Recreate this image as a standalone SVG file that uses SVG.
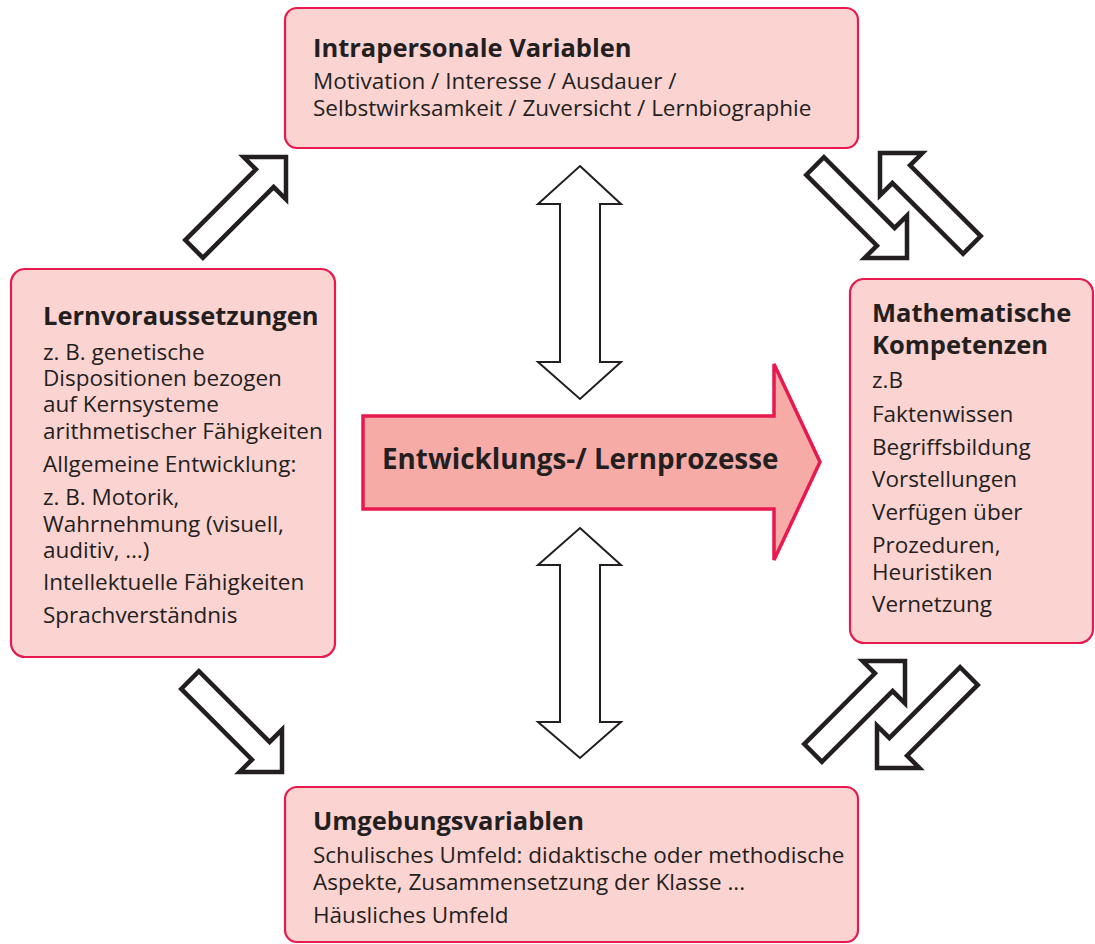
<svg xmlns="http://www.w3.org/2000/svg" width="1095" height="944" viewBox="0 0 1095 944">
<defs>
<style>
.box{fill:#fbd3d1;stroke:#e8194f;stroke-width:2.2}
.t{font-family:"Open Sans","Noto Sans",sans-serif;fill:#231f20}
.h{font-size:25.5px;font-weight:bold}
.b{font-size:22.5px}
.da{fill:#fff;stroke:#231f20;stroke-width:4.5;stroke-linejoin:miter}
.va{fill:#fff;stroke:#231f20;stroke-width:2}
</style>
<path id="diag" d="M0,0 L-30,-30 L-30,-12.5 L-130,-12.5 L-130,12.5 L-30,12.5 L-30,30 Z"/>
</defs>
<rect width="1095" height="944" fill="#fff"/>

<g id="connectors">
<use href="#diag" class="da" transform="translate(286,157) rotate(-45)"/>
<use href="#diag" class="da" transform="translate(907,258) rotate(45)"/>
<use href="#diag" class="da" transform="translate(880,153) rotate(-135)"/>
<use href="#diag" class="da" transform="translate(282,772) rotate(45)"/>
<use href="#diag" class="da" transform="translate(905,661) rotate(-45)"/>
<use href="#diag" class="da" transform="translate(877,768) rotate(135)"/>
<path class="va" d="M580,166 L621,204 L600,204 L600,362 L621,362 L580,399 L538,362 L560,362 L560,204 L538,204 Z"/>
<path class="va" d="M580,528 L621,565 L600,565 L600,722 L621,722 L580,758 L538,722 L560,722 L560,565 L538,565 Z"/>
</g>

<g id="process">
<path d="M363,416 L774,416 L774,364 L820,462 L774,560 L774,509 L363,509 Z" fill="#f7aba7" stroke="#e8194f" stroke-width="3.5"/>
<text class="t" x="382" y="469" font-size="27.8" font-weight="bold">Entwicklungs-/ Lernprozesse</text>
</g>

<g id="intrapersonal">
<rect class="box" x="285" y="8" width="573" height="140" rx="12"/>
<text class="t h" x="313" y="57">Intrapersonale Variablen</text>
<text class="t b" x="313" y="89">Motivation / Interesse / Ausdauer /</text>
<text class="t b" x="313" y="116">Selbstwirksamkeit / Zuversicht / Lernbiographie</text>
</g>

<g id="lernvoraussetzungen">
<rect class="box" x="11" y="269" width="324" height="388" rx="14"/>
<text class="t h" x="43" y="325">Lernvoraussetzungen</text>
<text class="t b" x="43" y="360">z. B. genetische</text>
<text class="t b" x="43" y="386">Dispositionen bezogen</text>
<text class="t b" x="43" y="412">auf Kernsysteme</text>
<text class="t b" x="43" y="439">arithmetischer Fähigkeiten</text>
<text class="t b" x="43" y="472">Allgemeine Entwicklung:</text>
<text class="t b" x="43" y="505">z. B. Motorik,</text>
<text class="t b" x="43" y="532">Wahrnehmung (visuell,</text>
<text class="t b" x="43" y="558">auditiv, …)</text>
<text class="t b" x="43" y="590">Intellektuelle Fähigkeiten</text>
<text class="t b" x="43" y="623">Sprachverständnis</text>
</g>

<g id="mathematische">
<rect class="box" x="850" y="279" width="243" height="364" rx="14"/>
<text class="t h" x="872" y="322">Mathematische</text>
<text class="t h" x="872" y="354">Kompetenzen</text>
<text class="t b" x="872" y="388">z.B</text>
<text class="t b" x="872" y="422">Faktenwissen</text>
<text class="t b" x="872" y="455">Begriffsbildung</text>
<text class="t b" x="872" y="487">Vorstellungen</text>
<text class="t b" x="872" y="520">Verfügen über</text>
<text class="t b" x="872" y="553">Prozeduren,</text>
<text class="t b" x="872" y="580">Heuristiken</text>
<text class="t b" x="872" y="612">Vernetzung</text>
</g>

<g id="umgebung">
<rect class="box" x="285" y="787" width="573" height="155" rx="12"/>
<text class="t h" x="313" y="830">Umgebungsvariablen</text>
<text class="t b" x="313" y="863">Schulisches Umfeld: didaktische oder methodische</text>
<text class="t b" x="313" y="890">Aspekte, Zusammensetzung der Klasse ...</text>
<text class="t b" x="313" y="923">Häusliches Umfeld</text>
</g>
</svg>
